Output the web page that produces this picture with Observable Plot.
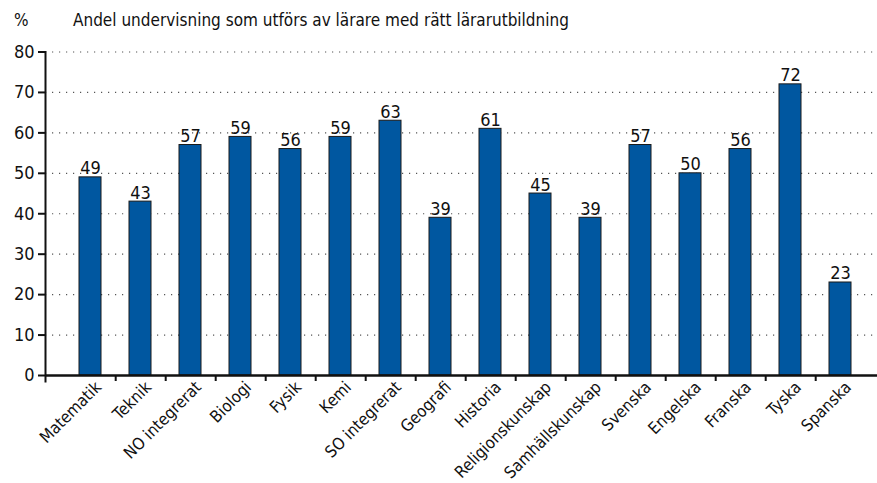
<!DOCTYPE html>
<html>
<head>
<meta charset="utf-8">
<script src="https://cdn.jsdelivr.net/npm/d3@7"></script>
<script src="https://cdn.jsdelivr.net/npm/@observablehq/plot@0.6"></script>
<style>
  html, body { margin: 0; padding: 0; background: #fff; }
  body { width: 877px; height: 483px; overflow: hidden; font-family: "Liberation Sans Narrow", "DejaVu Sans Condensed", sans-serif; }
  #head { position: relative; height: 36px; font-size: 17px; color: #111; }
  #head span { position: absolute; top: 10px; }
</style>
</head>
<body>
<div id="head"><span id="unit" style="left:14px"></span><span id="title" style="left:73px"></span></div>
<div id="chart"></div>
<script>
const unitLabel = "%";
const titleText = "Andel undervisning som utförs av lärare med rätt lärarutbildning";
const subjects = ["Matematik","Teknik","NO integrerat","Biologi","Fysik","Kemi","SO integrerat","Geografi","Historia","Religionskunskap","Samhällskunskap","Svenska","Engelska","Franska","Tyska","Spanska"];
const shares = [49, 43, 57, 59, 56, 59, 63, 39, 61, 45, 39, 57, 50, 56, 72, 23];
const yTicks = [0, 10, 20, 30, 40, 50, 60, 70, 80];

document.getElementById("unit").textContent = unitLabel;
document.getElementById("title").textContent = titleText;

const data = subjects.map((s, i) => ({subject: s, value: shares[i]}));
const font = "Liberation Sans Narrow, DejaVu Sans Condensed, sans-serif";

const chart = Plot.plot({
  width: 877,
  height: 447,
  marginTop: 15.5,
  marginBottom: 108,
  marginLeft: 45,
  marginRight: 0,
  style: {fontFamily: font, fontSize: "17px", color: "#111", background: "#fff"},
  x: {domain: subjects, paddingInner: 0.564, paddingOuter: 0.525, align: 0.566, label: null},
  y: {domain: [0, 80], label: null},
  marks: [
    Plot.ruleY(yTicks.filter(d => d > 0), {y: d => d, stroke: "#555", strokeWidth: 1.2, strokeDasharray: "1.2,5.8"}),
    Plot.barY(data, {x: "subject", y: "value", fill: "#0057A0", stroke: "#1a1a1a", strokeWidth: 1}),
    Plot.text(data, {x: "subject", y: "value", text: d => String(d.value), lineAnchor: "bottom", dy: -3, fontSize: 18, fill: "#111"}),
    Plot.axisY({ticks: yTicks, tickSize: 7, tickPadding: 4, strokeWidth: 2, stroke: "#111", fontSize: 18, label: null}),
    Plot.axisX(subjects.slice(0, -1), {tickSize: 6, strokeWidth: 2, stroke: "#111", dx: 25.2, tickFormat: null, label: null}),
    Plot.axisX({tickSize: 0, tickPadding: 9, tickRotate: -45, dx: 8, fontSize: 16.5, label: null}),
    Plot.frame({anchor: "left", stroke: "#111", strokeWidth: 2, insetBottom: -6}),
    Plot.ruleY([0], {stroke: "#111", strokeWidth: 2.5})
  ]
});
document.getElementById("chart").appendChild(chart);
</script>
</body>
</html>
